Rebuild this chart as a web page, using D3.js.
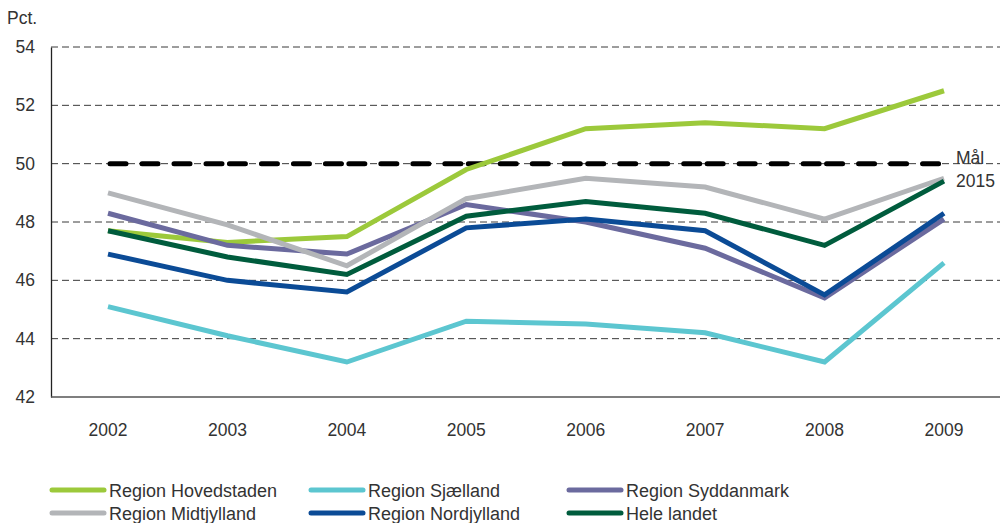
<!DOCTYPE html>
<html>
<head>
<meta charset="utf-8">
<script src="https://cdn.jsdelivr.net/npm/d3@7"></script>
<style>
  body { margin: 0; background: #fff; }
  text { font-family: "Liberation Sans", Arial, sans-serif; fill: #333; }
</style>
</head>
<body>
<svg id="chart" width="1000" height="523"></svg>
<script>
var years = ["2002", "2003", "2004", "2005", "2006", "2007", "2008", "2009"];
var yTicks = [42, 44, 46, 48, 50, 52, 54];
var goal = 50;

var hovedstaden = [47.7, 47.3, 47.5, 49.8, 51.2, 51.4, 51.2, 52.5];
var sjaelland   = [45.1, 44.1, 43.2, 44.6, 44.5, 44.2, 43.2, 46.6];
var syddanmark  = [48.3, 47.2, 46.9, 48.6, 48.0, 47.1, 45.4, 48.1];
var midtjylland = [49.0, 47.9, 46.5, 48.8, 49.5, 49.2, 48.1, 49.5];
var nordjylland = [46.9, 46.0, 45.6, 47.8, 48.1, 47.7, 45.5, 48.3];
var heleLandet  = [47.7, 46.8, 46.2, 48.2, 48.7, 48.3, 47.2, 49.4];

var seriesNames = ["Region Hovedstaden", "Region Sjælland", "Region Syddanmark",
                   "Region Midtjylland", "Region Nordjylland", "Hele landet"];
var seriesValues = [hovedstaden, sjaelland, syddanmark, midtjylland, nordjylland, heleLandet];
var seriesColors = ["#9cc93b", "#5cc6d0", "#6b6a9e", "#b3b5b8", "#0b4b96", "#005c3d"];

var svg = d3.select("#chart");

var x = d3.scalePoint().domain(years).range([108, 944]);
var y = d3.scaleLinear().domain([42, 54]).range([397, 47]);

// gridlines (dashed)
svg.append("g")
  .selectAll("line")
  .data(yTicks.filter(function(d) { return d > 42; }))
  .join("line")
    .attr("x1", 51)
    .attr("x2", 1000)
    .attr("y1", function(d) { return y(d); })
    .attr("y2", function(d) { return y(d); })
    .attr("stroke", "#3a3a3a")
    .attr("stroke-width", 1)
    .attr("stroke-dasharray", "7,4");

// y axis
var yAxis = svg.append("g")
  .attr("transform", "translate(51,0)")
  .call(d3.axisLeft(y).tickValues(yTicks).tickSize(0).tickPadding(16).tickFormat(d3.format("d")));
yAxis.select(".domain").attr("stroke", "#222").attr("stroke-width", 1.3);
yAxis.selectAll("text")
  .attr("font-size", 17.5)
  .attr("fill", "#333")
  .style("font-family", "Liberation Sans, Arial, sans-serif");

// x axis baseline
svg.append("line")
  .attr("x1", 51).attr("x2", 1000)
  .attr("y1", y(42)).attr("y2", y(42))
  .attr("stroke", "#555").attr("stroke-width", 1.3);

// year labels
svg.append("g")
  .selectAll("text")
  .data(years)
  .join("text")
    .attr("x", function(d) { return x(d); })
    .attr("y", 436)
    .attr("text-anchor", "middle")
    .attr("font-size", 17.5)
    .text(function(d) { return d; });

svg.append("text")
  .attr("x", 7).attr("y", 24)
  .attr("font-size", 17.5)
  .text("Pct.");

// goal line, dashed per year interval
var goalSegs = d3.pairs(years);
svg.append("g")
  .selectAll("line")
  .data(goalSegs)
  .join("line")
    .attr("x1", function(d) { return x(d[0]) + 2; })
    .attr("x2", function(d) { return x(d[1]); })
    .attr("y1", y(goal))
    .attr("y2", y(goal))
    .attr("stroke", "#000")
    .attr("stroke-width", 5)
    .attr("stroke-linecap", "round")
    .attr("stroke-dasharray", "16,16");

svg.append("text")
  .attr("x", 956).attr("y", 164)
  .attr("font-size", 17.5)
  .text("Mål");
svg.append("text")
  .attr("x", 956).attr("y", 187)
  .attr("font-size", 17.5)
  .text("2015");

// series lines
var line = d3.line()
  .x(function(d, i) { return x(years[i]); })
  .y(function(d) { return y(d); });

svg.append("g")
  .selectAll("path")
  .data(seriesValues)
  .join("path")
    .attr("d", line)
    .attr("fill", "none")
    .attr("stroke", function(d, i) { return seriesColors[i]; })
    .attr("stroke-width", 5)
    .attr("stroke-linejoin", "miter");

// legend
var legendCols = [50, 309, 567];
var legendRows = [490, 513];
var legend = svg.append("g")
  .selectAll("g")
  .data(seriesNames)
  .join("g")
    .attr("transform", function(d, i) {
      return "translate(" + legendCols[i % 3] + "," + legendRows[Math.floor(i / 3)] + ")";
    });
legend.append("line")
  .attr("x1", 2).attr("x2", 54)
  .attr("y1", 0).attr("y2", 0)
  .attr("stroke", function(d, i) { return seriesColors[i]; })
  .attr("stroke-width", 5)
  .attr("stroke-linecap", "round");
legend.append("text")
  .attr("x", 59)
  .attr("y", 7)
  .attr("font-size", 18)
  .text(function(d) { return d; });
</script>
</body>
</html>
